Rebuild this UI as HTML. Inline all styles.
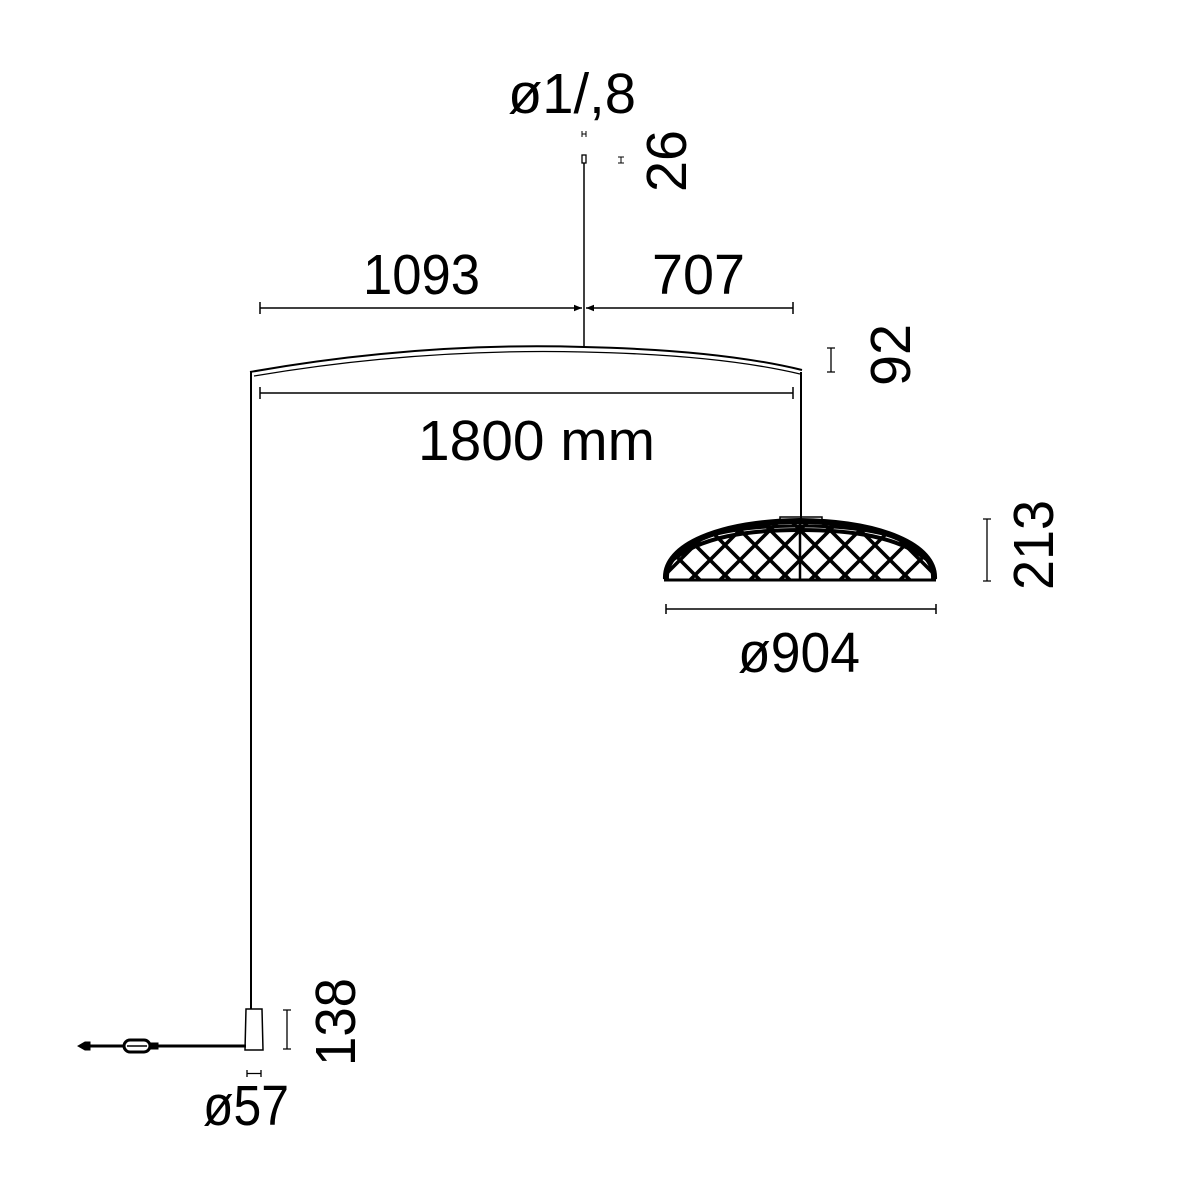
<!DOCTYPE html>
<html><head><meta charset="utf-8"><style>html,body{margin:0;padding:0;background:#fff}svg{display:block}text{font-family:"Liberation Sans",sans-serif;fill:#000;font-size:57px}</style></head>
<body>
<svg width="1200" height="1200" viewBox="0 0 1200 1200" xmlns="http://www.w3.org/2000/svg">
<defs>
<clipPath id="dome"><path d="M666,579 C664,545 720,522 800,521 C880,522 936,545 934,579 Z"/></clipPath>
<marker id="ar" viewBox="0 0 10 10" refX="10" refY="5" markerWidth="8" markerHeight="8" orient="auto-start-reverse" markerUnits="userSpaceOnUse"><path d="M0,1 L10,5 L0,9 Z" fill="#000"/></marker>
</defs>
<g stroke="#000" fill="none" stroke-width="1.5">
<line x1="584" y1="163" x2="584" y2="348"/>
<rect x="582" y="155" width="4" height="8" stroke-width="1.3"/>
<path d="M582,131 v6 M586,131 v6 M582,134 h4" stroke-width="1"/>
<path d="M618,157 h6 M618,163 h6 M621,157 v6" stroke-width="1"/>
<line x1="260" y1="308" x2="582" y2="308" marker-end="url(#ar)"/>
<line x1="586" y1="308" x2="793" y2="308" marker-start="url(#ar)"/>
<line x1="260" y1="302" x2="260" y2="314"/>
<line x1="793" y1="302" x2="793" y2="314"/>
<path d="M250,372 Q420,342 584,347 Q720,350 802,370" stroke-width="2"/>
<path d="M254,376 Q420,348 584,352 Q720,355 800,374" stroke-width="1.3"/>
<line x1="251" y1="372" x2="251" y2="1009" stroke-width="2"/>
<line x1="801" y1="372" x2="801" y2="519" stroke-width="2"/>
<path d="M831,348 v24 M827,348 h8 M827,372 h8" stroke-width="1.3"/>
<line x1="260" y1="393" x2="793" y2="393"/>
<line x1="260" y1="387" x2="260" y2="399"/>
<line x1="793" y1="387" x2="793" y2="399"/>
<rect x="780" y="517" width="42" height="5" stroke-width="1.5"/>
<g clip-path="url(#dome)" stroke-width="3.6">
<path d="M640,600 L760,480 M670,600 L790,480 M700,600 L820,480 M730,600 L850,480 M760,600 L880,480 M790,600 L910,480 M820,600 L940,480 M850,600 L970,480 M880,600 L1000,480 M610,600 L730,480"/>
<path d="M960,600 L840,480 M930,600 L810,480 M900,600 L780,480 M870,600 L750,480 M840,600 L720,480 M810,600 L690,480 M780,600 L660,480 M750,600 L630,480 M720,600 L600,480 M990,600 L870,480"/>
<path d="M670,562 C700,536 750,530 800,530 C850,530 900,536 930,562" stroke-width="4"/>
<path d="M676,550 C705,532 750,526 800,526 C850,526 895,532 924,550" stroke-width="3"/>
<line x1="800" y1="522" x2="800" y2="580" stroke-width="2.5"/>
</g>
<path d="M666,579 C664,545 720,522 800,521 C880,522 936,545 934,579" stroke-width="6"/>
<line x1="664" y1="580" x2="936" y2="580" stroke-width="3"/>
<path d="M987,519 v62 M983,519 h8 M983,581 h8" stroke-width="1.3"/>
<line x1="666" y1="609" x2="936" y2="609"/>
<line x1="666" y1="604" x2="666" y2="614"/>
<line x1="936" y1="604" x2="936" y2="614"/>
<path d="M246,1009 h16 l1,41 h-18 Z" stroke-width="1.5" fill="#fff"/>
<line x1="86" y1="1046" x2="246" y2="1046" stroke-width="3"/>
<rect x="124" y="1040" width="26" height="12" rx="6" stroke-width="3" fill="#fff"/>
<line x1="127" y1="1046" x2="147" y2="1046" stroke-width="1.5"/>
<path d="M78,1046 l7,-4 h5 v8 h-5 Z" fill="#000" stroke-width="1"/>
<path d="M150,1043 h8 v6 h-8 Z" fill="#000" stroke-width="1"/>
<path d="M287,1010 v39 M283,1010 h8 M283,1049 h8" stroke-width="1.3"/>
<path d="M247,1070 v7 M261,1070 v7 M247,1073.5 h14" stroke-width="1.3"/>
</g>
<text x="363" y="294" textLength="117" lengthAdjust="spacingAndGlyphs">1093</text>
<text x="652" y="294" textLength="93" lengthAdjust="spacingAndGlyphs">707</text>
<text x="418" y="460" textLength="237" lengthAdjust="spacingAndGlyphs">1800 mm</text>
<text x="738" y="672" textLength="122" lengthAdjust="spacingAndGlyphs">ø904</text>
<text x="508" y="113" textLength="128" lengthAdjust="spacingAndGlyphs">ø1/,8</text>
<text x="203" y="1125" textLength="86" lengthAdjust="spacingAndGlyphs">ø57</text>
<text transform="translate(686,192) rotate(-90)" textLength="62" lengthAdjust="spacingAndGlyphs">26</text>
<text transform="translate(910,386) rotate(-90)" textLength="62" lengthAdjust="spacingAndGlyphs">92</text>
<text transform="translate(1053,590) rotate(-90)" textLength="90" lengthAdjust="spacingAndGlyphs">213</text>
<text transform="translate(355,1066) rotate(-90)" textLength="88" lengthAdjust="spacingAndGlyphs">138</text>
</svg>
</body></html>
